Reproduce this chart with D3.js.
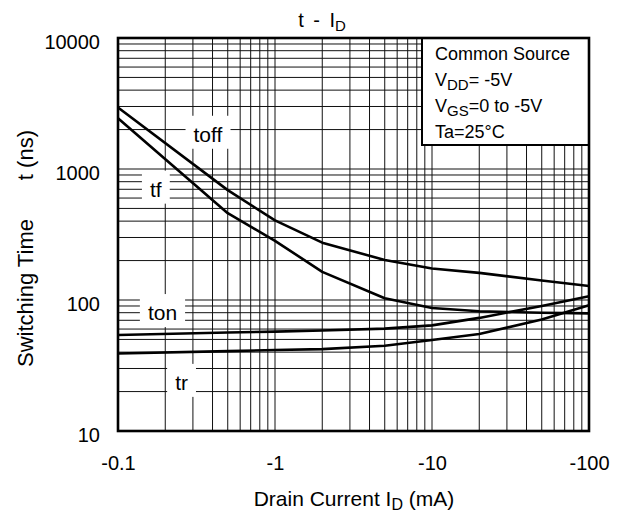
<!DOCTYPE html>
<html><head><meta charset="utf-8">
<script src="https://cdn.jsdelivr.net/npm/d3@7"></script>
<style>body{margin:0;background:#fff}svg{display:block;font-family:"Liberation Sans",Arial,sans-serif}</style>
</head><body><svg id="c" width="624" height="515"></svg>
<script>
// ---- data ----
const current = [0.1, 0.5, 1, 2, 5, 10, 20, 50, 100];        // |I_D| mA
const toff = [2950, 690, 405, 274, 202, 174, 161, 141, 128];
const tf   = [2440, 460, 283, 164, 103, 87, 82, 80, 79];
const ton  = [54, 56.5, 57.4, 58.5, 60.5, 64, 73, 90, 107];
const tr   = [39, 40.7, 41.5, 42.2, 44.8, 49.5, 55, 71, 91];
const xTicks = [0.1, 1, 10, 100];
const xTickLabels = ["-0.1", "-1", "-10", "-100"];
const yTicks = [10, 100, 1000, 10000];
const yTickLabels = ["10", "100", "1000", "10000"];
const curveLabels = [
  {name: "toff", x: 0.374, y: 1614},
  {name: "tf",   x: 0.174, y: 615},
  {name: "ton",  x: 0.192, y: 70.3},
  {name: "tr",   x: 0.254, y: 20.6}
];
const legendLines = [["Common Source"], ["V", "DD", "= -5V"], ["V", "GS", "=0 to -5V"], ["Ta=25°C"]];

// ---- layout ----
const L = 118, R = 589, T = 38, B = 431;
const svg = d3.select("#c");
const x = d3.scaleLog().domain([0.1, 100]).range([L, R]);
const y = d3.scaleLog().domain([10, 10000]).range([B, T]);

// grid
const gx = [], gy = [];
[0.1, 1, 10].forEach(d => { for (let k = 1; k <= 9; k++) { const v = d * k; if (v > 0.1 + 1e-9 && v < 100 - 1e-9) gx.push(v); } });
[10, 100, 1000].forEach(d => { for (let k = 1; k <= 9; k++) { const v = d * k; if (v > 10 + 1e-9 && v < 10000 - 1e-9) gy.push(v); } });
const g = svg.append("g");
g.selectAll(".vx").data(gx).join("line").attr("x1", d => x(d)).attr("x2", d => x(d)).attr("y1", T).attr("y2", B)
  .attr("stroke", "#111").attr("stroke-width", 1);
g.selectAll(".hy").data(gy).join("line").attr("y1", d => y(d)).attr("y2", d => y(d)).attr("x1", L).attr("x2", R)
  .attr("stroke", "#111").attr("stroke-width", 1);

// curve labels with white backgrounds
const lab = svg.append("g").attr("font-size", 21);
curveLabels.forEach(c => {
  const t = lab.append("text").attr("x", x(c.x)).attr("y", y(c.y)).attr("text-anchor", "middle").text(c.name);
  const bb = t.node().getBBox();
  lab.insert("rect", "text").attr("x", bb.x - 8).attr("y", bb.y - 7).attr("width", bb.width + 16).attr("height", bb.height + 10).attr("fill", "#fff");
});

// curves
const line = d3.line().x(d => x(d[0])).y(d => y(d[1]));
[toff, tf, ton, tr].forEach(s => {
  svg.append("path").attr("d", line(current.map((c, i) => [c, s[i]])))
    .attr("fill", "none").attr("stroke", "#000").attr("stroke-width", 2.6).attr("stroke-linejoin", "round");
});

// legend box
svg.append("rect").attr("x", 422).attr("y", T).attr("width", R - 422).attr("height", 107)
  .attr("fill", "#fff").attr("stroke", "#000").attr("stroke-width", 2);
legendLines.forEach((ln, i) => {
  const t = svg.append("text").attr("x", 435).attr("y", 59.5 + i * 26.2).attr("font-size", 18);
  if (ln.length === 1) t.text(ln[0]);
  else {
    t.append("tspan").text(ln[0]);
    t.append("tspan").attr("font-size", 15).attr("dy", 4).text(ln[1]);
    t.append("tspan").attr("dy", -4).text(ln[2]);
  }
});

// frame
svg.append("rect").attr("x", L).attr("y", T).attr("width", R - L).attr("height", B - T)
  .attr("fill", "none").attr("stroke", "#000").attr("stroke-width", 2.6);

// axes
const xa = svg.append("g").attr("transform", `translate(0,${B})`)
  .call(d3.axisBottom(x).tickValues(xTicks).tickFormat((d, i) => xTickLabels[i]).tickSize(0).tickPadding(39));
const ya = svg.append("g").attr("transform", `translate(${L},0)`)
  .call(d3.axisLeft(y).tickValues(yTicks).tickFormat((d, i) => yTickLabels[i]).tickSize(0).tickPadding(18));
[xa, ya].forEach(a => { a.select(".domain").remove(); a.selectAll("text").attr("font-size", 20).attr("fill", "#000").attr("font-family", "Liberation Sans, Arial, sans-serif"); });
ya.selectAll("text").attr("dy", 10);
xa.selectAll("text").attr("dy", 0);

// titles
const tt = svg.append("text").attr("x", 322).attr("y", 27).attr("text-anchor", "middle").attr("font-size", 20).attr("word-spacing", 4);
tt.append("tspan").text("t - I");
tt.append("tspan").attr("font-size", 15).attr("dy", 4).text("D");

const xt = svg.append("text").attr("x", 354).attr("y", 506).attr("text-anchor", "middle").attr("font-size", 21);
xt.append("tspan").text("Drain Current I");
xt.append("tspan").attr("font-size", 16).attr("dy", 4).text("D");
xt.append("tspan").attr("dy", -4).text(" (mA)");

const yt = svg.append("g").attr("transform", "translate(32.5,367) rotate(-90)").attr("font-size", 22);
yt.append("text").attr("x", 0).attr("y", 0).text("Switching Time");
yt.append("text").attr("x", 237).attr("y", 0).attr("text-anchor", "end").text("t (ns)");
</script></body></html>
